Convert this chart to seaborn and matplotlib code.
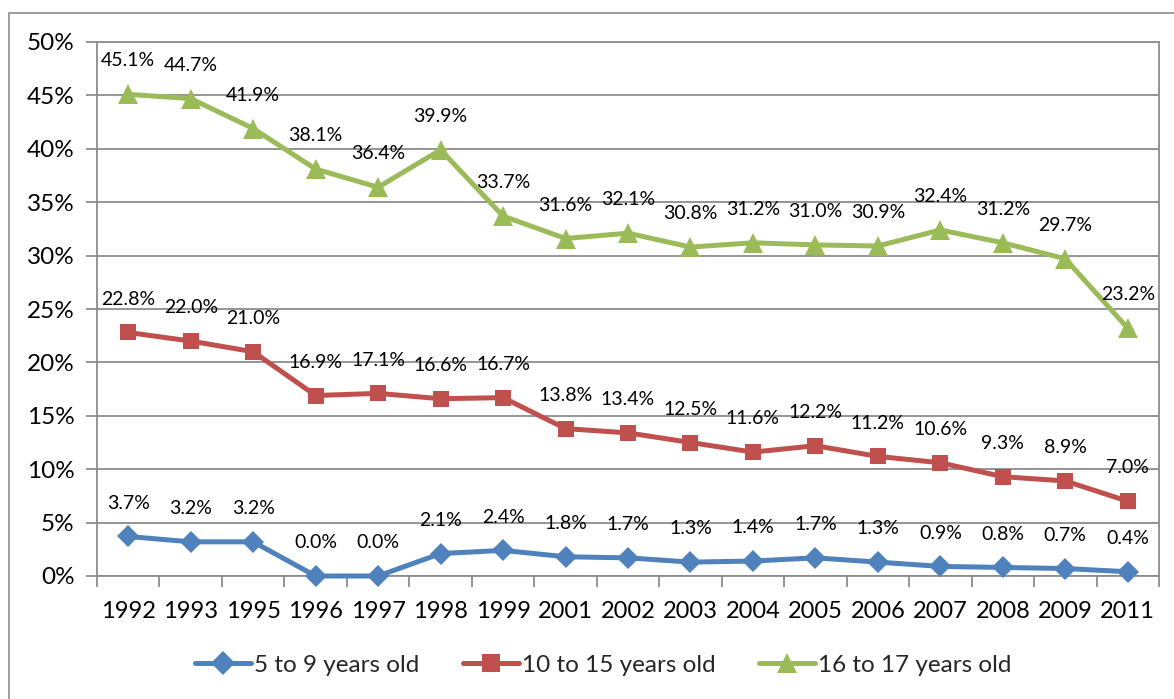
import matplotlib
matplotlib.use("Agg")
import matplotlib.pyplot as plt
import seaborn as sns
import pandas as pd
from matplotlib.patches import Rectangle
from matplotlib.ticker import MultipleLocator, FuncFormatter, FixedLocator

years = ["1992", "1993", "1995", "1996", "1997", "1998", "1999", "2001", "2002",
         "2003", "2004", "2005", "2006", "2007", "2008", "2009", "2011"]
age_5_9 = [3.7, 3.2, 3.2, 0.0, 0.0, 2.1, 2.4, 1.8, 1.7, 1.3, 1.4, 1.7, 1.3, 0.9, 0.8, 0.7, 0.4]
age_10_15 = [22.8, 22.0, 21.0, 16.9, 17.1, 16.6, 16.7, 13.8, 13.4, 12.5, 11.6, 12.2, 11.2, 10.6, 9.3, 8.9, 7.0]
age_16_17 = [45.1, 44.7, 41.9, 38.1, 36.4, 39.9, 33.7, 31.6, 32.1, 30.8, 31.2, 31.0, 30.9, 32.4, 31.2, 29.7, 23.2]
series_names = ["5 to 9 years old", "10 to 15 years old", "16 to 17 years old"]

sns.set_theme(style="white")
plt.rcParams["font.family"] = ["Lato", "DejaVu Sans"]

rows = []
for name, vals in zip(series_names, [age_5_9, age_10_15, age_16_17]):
    for i, v in enumerate(vals):
        rows.append({"idx": i, "year": years[i], "value": v, "group": name})
df = pd.DataFrame(rows)

palette = {series_names[0]: "#4F81BD", series_names[1]: "#C0504D", series_names[2]: "#9BBB59"}
markers = {series_names[0]: "D", series_names[1]: "s", series_names[2]: "^"}
msizes = {series_names[0]: 11, series_names[1]: 12, series_names[2]: 14}

fig = plt.figure(figsize=(11.74, 6.99), dpi=100)
ax = fig.add_axes([97 / 1174, 1 - 576 / 699, (1159 - 97) / 1174, (576 - 42) / 699])

# outer chart frame
fig.patches.append(Rectangle((9 / 1174, -0.1), 1.2, 1 - 13 / 699 + 0.1,
                             transform=fig.transFigure, fill=False,
                             edgecolor="#8c8c8c", linewidth=1.2, zorder=0))

sns.lineplot(data=df, x="idx", y="value", hue="group", style="group",
             palette=palette, markers=markers, dashes=False, linewidth=3.6,
             markeredgewidth=0, ax=ax, legend=False)
for line, name in zip(ax.get_lines(), series_names):
    line.set_markersize(msizes[name])
    line.set_clip_on(False)
    line.set_zorder(3)

ax.set_xlim(-0.5, len(years) - 0.5)
ax.set_ylim(0, 50)
ax.yaxis.set_major_locator(MultipleLocator(5))
ax.yaxis.set_major_formatter(FuncFormatter(lambda v, p: f"{v:.0f}%"))
ax.set_xticks(range(len(years)))
ax.set_xticklabels(years)
ax.xaxis.set_minor_locator(FixedLocator([i - 0.5 for i in range(len(years) + 1)]))
ax.tick_params(axis="x", which="major", length=0, pad=18, labelsize=17, colors="black")
ax.tick_params(axis="x", which="minor", length=8, width=1.3, color="#8c8c8c", direction="out")
ax.tick_params(axis="y", which="major", length=8, width=1.3, color="#8c8c8c",
               direction="out", labelsize=17.5, pad=8, labelcolor="black")
ax.xaxis.set_ticks_position("bottom")
ax.yaxis.set_ticks_position("left")
ax.set_xlabel("")
ax.set_ylabel("")
ax.grid(axis="y", color="#8c8c8c", linewidth=1.3)
ax.set_axisbelow(True)
for s in ax.spines.values():
    s.set_color("#8c8c8c")
    s.set_linewidth(1.3)

# value labels above every point
for vals in [age_5_9, age_10_15, age_16_17]:
    for i, v in enumerate(vals):
        ax.annotate(f"{v:.1f}%", (i, v), xytext=(0, 24), textcoords="offset points",
                    ha="center", va="center", fontsize=14, color="black")

handles = [plt.Line2D([], [], color=palette[n], marker=markers[n], markersize=msizes[n] + 1,
                      markeredgewidth=0, linewidth=3.6) for n in series_names]
fig.legend(handles, series_names, loc="center", bbox_to_anchor=(603 / 1174, 1 - 665 / 699),
           ncol=3, frameon=False, fontsize=17.5, handlelength=2.3, handletextpad=0.12,
           columnspacing=1.8)

fig.savefig("out.png", dpi=100)
